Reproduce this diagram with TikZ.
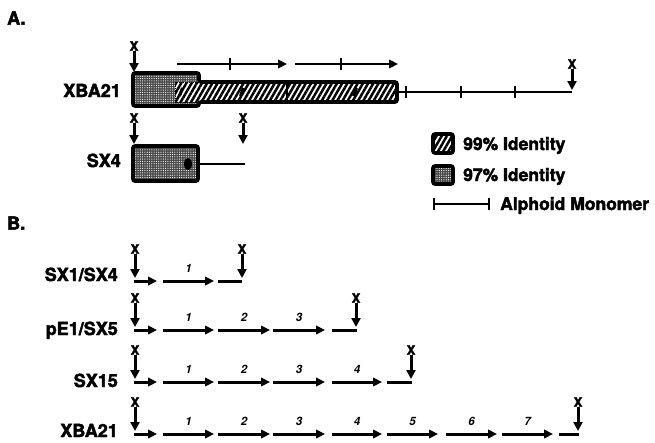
\documentclass[tikz,border=0pt]{standalone}
\usepackage{fontspec}
\setmainfont{TeX Gyre Heros}[BoldFeatures={FakeBold=2.5}]
\usetikzlibrary{arrows.meta,patterns,patterns.meta}
\begin{document}
\begin{tikzpicture}[x=1pt,y=-1pt,
  lab/.style={font=\bfseries\fontsize{18}{20}\selectfont, inner sep=0pt},
  leg/.style={font=\bfseries\fontsize{17.5}{20}\selectfont, inner sep=0pt},
  xl/.style={font=\bfseries\fontsize{13}{13}\selectfont, inner sep=0.3pt},
  num/.style={font=\bfseries\itshape\fontsize{11.5}{12}\selectfont, inner sep=0pt},
  darr/.style={line width=3pt, -{Triangle[length=9pt,width=9pt]}},
  barr/.style={line width=3pt, -{Triangle[length=9pt,width=8.5pt]}},
  tail/.style={line width=3pt},
  aarr/.style={line width=2.6pt, -{Triangle[length=9pt,width=8.5pt]}},
  thinl/.style={line width=2.6pt},
  tick/.style={line width=2.8pt},
  boxline/.style={line width=3.6pt, rounded corners=2pt},
  grayfill/.style={fill=black!72, postaction={pattern={Dots[radius=0.6pt,distance=2.3pt]}, pattern color=white}},
  hatch/.style={fill=white, postaction={pattern={Lines[angle=60,distance=4.5pt,line width=2.5pt]}}}
]
\useasboundingbox (0,0) rectangle (655,442);

% ---------------- Panel A ----------------
\node[lab, anchor=west] (pa) at (7,18) {A.};
\node[lab, anchor=base east] (lxba) at (121,97) {XBA21};
\node[lab, anchor=base east] (lsx4) at (121,167) {SX4};

% XBA21 map
\fill[grayfill] (133,73) rectangle (199,106);
\fill[hatch] (175,82) rectangle (397,102);
\draw[line width=1pt, densely dotted] (175,82) -- (199,82) (175,102) -- (199,102) (175,82) -- (175,102);
\draw[boxline] (133,73) -- (199,73) -- (199,82) -- (397,82) -- (397,102) -- (199,102) -- (199,106) -- (133,106) -- cycle;
\draw[line width=2.8pt] (287,82) -- (287,102);
\foreach \mx in {181,242,355} \draw[line width=3pt] (\mx-1.5,96) -- (\mx+1.5,88);

% monomer arrows above bar
\coordinate (a1s) at (177,64); \coordinate (a1e) at (287,64);
\coordinate (a2s) at (295,64); \coordinate (a2e) at (398,64);
\draw[aarr] (a1s) -- (a1e);
\draw[aarr] (a2s) -- (a2e);
\foreach \tx in {230,341} \draw[tick] (\tx,58) -- (\tx,70);

% line after bar
\coordinate (lxs) at (397,92); \coordinate (lxe) at (572,92);
\draw[thinl] (lxs) -- (lxe);
\foreach \tx in {406,461,515} \draw[tick] (\tx,86) -- (\tx,98);

% X markers panel A
\node[xl] (xa1) at (134,46) {X}; \coordinate (xa1t) at (134,72);
\draw[darr] (xa1) -- (xa1t);
\node[xl] (xa2) at (572,64) {X}; \coordinate (xa2t) at (572,90);
\draw[darr] (xa2) -- (xa2t);
\node[xl] (xa3) at (134,118) {X}; \coordinate (xa3t) at (134,144);
\draw[darr] (xa3) -- (xa3t);
\node[xl] (xa4) at (243,118) {X}; \coordinate (xa4t) at (243,144);
\draw[darr] (xa4) -- (xa4t);

% SX4 map
\fill[grayfill] (133,146) rectangle (198,181);
\fill[black] (188,164) ellipse [x radius=4pt, y radius=6pt];
\draw[boxline] (133,146) rectangle (198,181);
\coordinate (s4s) at (198,164); \coordinate (s4e) at (245,164);
\draw[thinl] (s4s) -- (s4e);

% legend
\fill[hatch] (433,134) rectangle (453,153);
\draw[boxline] (433,134) rectangle (453,153);
\node[leg, anchor=base west] (l99) at (463,150) {99\% Identity};
\fill[grayfill] (433,166) rectangle (453,184);
\draw[boxline] (433,166) rectangle (453,184);
\node[leg, anchor=base west] (l97) at (463,181) {97\% Identity};
\coordinate (ms) at (433,204); \coordinate (me) at (490,204);
\draw[thinl] (ms) -- (me);
\draw[tick] (434,198) -- (434,210) (489,198) -- (489,210);
\node[leg, anchor=base west] (lam) at (500,210) {Alphoid Monomer};

% ---------------- Panel B ----------------
\node[lab, anchor=west] (pb) at (7,223) {B.};

\node[lab, anchor=base east] (r1) at (118,281) {SX1/SX4};
\node[lab, anchor=base east] (r2) at (118,335) {pE1/SX5};
\node[lab, anchor=base east] (r3) at (118,387) {SX15};
\node[lab, anchor=base east] (r4) at (118,437) {XBA21};

\newcommand{\seg}[4]{% y, xstart, xend, label
  \coordinate (s-#1-#2) at (#2,#1); \coordinate (e-#1-#2) at (#3,#1);
  \draw[barr] (s-#1-#2) -- (e-#1-#2);
  \node[num] at ({(#2+#3)/2},{#1-13}) {#4};}
\newcommand{\firstseg}[1]{%
  \coordinate (f-#1) at (133.5,#1); \coordinate (g-#1) at (157,#1);
  \draw[barr] (f-#1) -- (g-#1);}
\newcommand{\tailseg}[3]{%
  \coordinate (t-#1) at (#2,#1); \coordinate (u-#1) at (#3,#1);
  \draw[tail] (t-#1) -- (u-#1);}
\newcommand{\xm}[3]{% name, x, rowy
  \node[xl] (#1) at (#2,{#3-32}) {X}; \coordinate (#1t) at (#2,{#3-3});
  \draw[darr] (#1) -- (#1t);}

% row 1: SX1/SX4
\firstseg{281}
\seg{281}{163}{214}{1}
\tailseg{281}{218}{242}
\xm{xb1}{135}{281}
\xm{xb2}{242}{281}

% row 2: pE1/SX5
\firstseg{330}
\seg{330}{163}{214}{1}
\seg{330}{218}{270}{2}
\seg{330}{273}{325}{3}
\tailseg{330}{332}{357}
\xm{xb3}{135}{330}
\xm{xb4}{356}{330}

% row 3: SX15
\firstseg{382}
\seg{382}{163}{214}{1}
\seg{382}{218}{270}{2}
\seg{382}{273}{325}{3}
\seg{382}{332}{382}{4}
\tailseg{382}{387}{412}
\xm{xb5}{135}{382}
\xm{xb6}{411}{382}

% row 4: XBA21
\firstseg{434}
\seg{434}{163}{214}{1}
\seg{434}{218}{270}{2}
\seg{434}{273}{325}{3}
\seg{434}{332}{382}{4}
\seg{434}{387}{438}{5}
\seg{434}{446}{497}{6}
\seg{434}{502}{553}{7}
\tailseg{434}{559}{579}
\xm{xb7}{135}{434}
\xm{xb8}{578}{434}

\end{tikzpicture}
\end{document}
